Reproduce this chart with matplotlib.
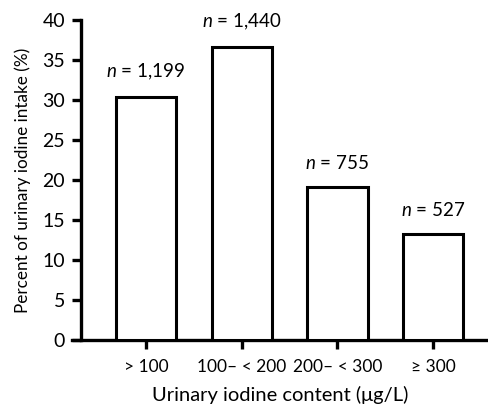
import matplotlib
matplotlib.use("Agg")
import matplotlib.pyplot as plt
import numpy as np

plt.rcParams['font.family'] = ['Lato', 'DejaVu Sans']
plt.rcParams['mathtext.fontset'] = 'custom'
plt.rcParams['mathtext.it'] = 'Lato:italic'
plt.rcParams['mathtext.rm'] = 'Lato'

categories = ['> 100', '100\u2013 < 200', '200\u2013 < 300', '\u2265 300']
percent = [30.4, 36.6, 19.1, 13.2]
counts = ['1,199', '1,440', '755', '527']

fig = plt.figure(figsize=(4.89, 4.12), dpi=100)
ax = fig.add_axes([72/489, 1 - 340/412, (489-72)/489, 320/412])

x = np.arange(len(categories))
ax.bar(x, percent, width=0.63, color='white', edgecolor='black', linewidth=2.2, zorder=3)

for xi, p, c in zip(x, percent, counts):
    ax.annotate(r'$\it{n}$ = ' + c, (xi, p), xytext=(0, 11), textcoords='offset points',
                ha='center', va='bottom', fontsize=13.5)

ax.set_ylim(0, 40)
ax.set_xlim(-0.773, 3.584)
ax.set_yticks(np.arange(0, 41, 5))
ax.set_xticks(x)
ax.set_xticklabels(categories)

ax.spines['top'].set_visible(False)
ax.spines['right'].set_visible(False)
ax.spines['left'].set_position(('data', -0.68))
for s in ['left', 'bottom']:
    ax.spines[s].set_linewidth(2.4)
ax.tick_params(axis='both', width=2.4, length=6.5, labelsize=14)
ax.tick_params(axis='x', pad=7, labelsize=12.5)
ax.tick_params(axis='y', pad=5)

ax.set_xlabel('Urinary iodine content (\u03bcg/L)', fontsize=14.5, labelpad=8)
ax.set_ylabel('Percent of urinary iodine intake (%)', fontsize=12.3, labelpad=8)

fig.savefig('out.png', dpi=100)
